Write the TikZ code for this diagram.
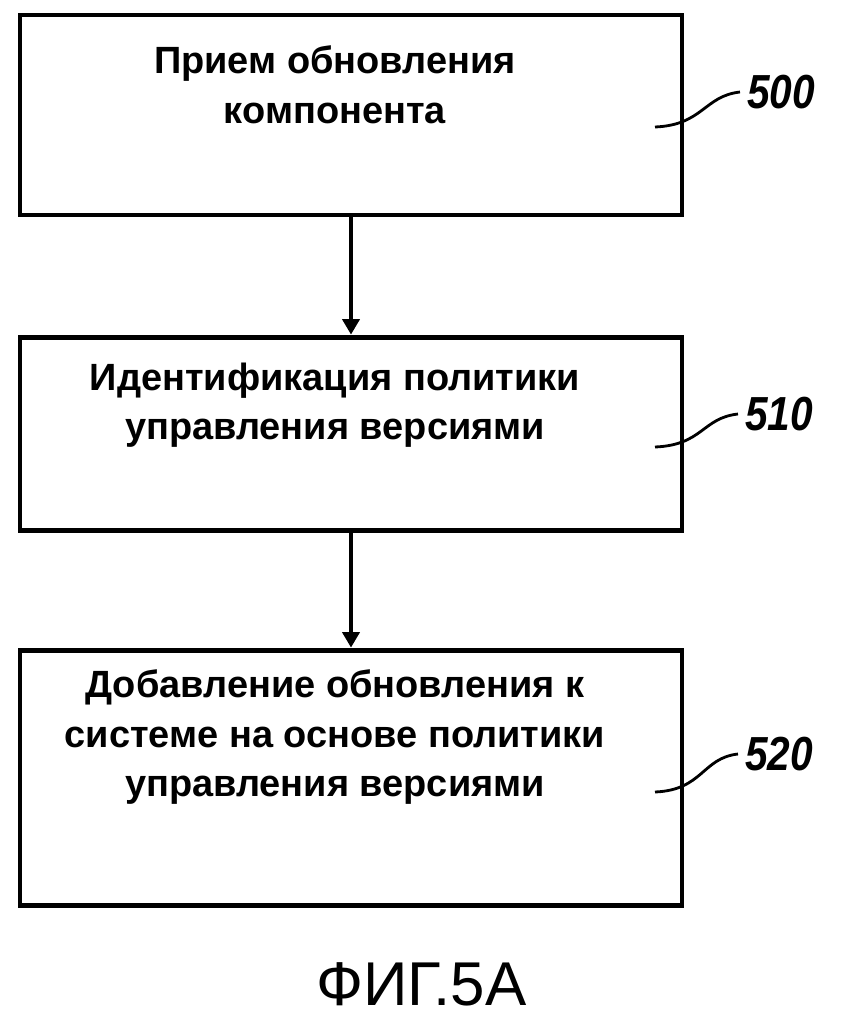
\documentclass[tikz,border=0pt]{standalone}
\usepackage{fontspec}
\setmainfont{Liberation Sans}
\newfontfamily\refnum[FakeStretch=0.85]{Liberation Sans}
\usetikzlibrary{arrows.meta}

\begin{document}
\begin{tikzpicture}[line width=3.5pt,>={Triangle[length=11pt,width=12pt]},
  box/.style={draw,minimum width=16.55cm,inner sep=0pt},
  txt/.style={anchor=north,align=center,font=\fontsize{27}{35}\selectfont\bfseries},
  num/.style={anchor=west,font=\refnum\fontsize{34}{34}\selectfont\bfseries\itshape},
  lead/.style={line width=2pt}]
\useasboundingbox (0,0) rectangle (21.1,-25.45);
% boxes
\node[box,minimum height=5cm] (b500) at (8.775,-2.875) {};
\node[box,minimum height=4.825cm] (b510) at (8.775,-10.84) {};
\node[box,minimum height=6.375cm] (b520) at (8.775,-19.44) {};
\node[txt] (t500) at ([xshift=-0.4cm,yshift=-0.66cm]b500.north) {Прием обновления\\компонента};
\node[txt] (t510) at ([xshift=-0.4cm,yshift=-0.52cm]b510.north) {Идентификация политики\\управления версиями};
\node[txt] (t520) at ([xshift=-0.4cm,yshift=-0.38cm]b520.north) {Добавление обновления к\\системе на основе политики\\управления версиями};
\draw[->] (b500.south) -- (b510.north);
\draw[->] (b510.south) -- (b520.north);
% reference numerals
\coordinate (l500) at (16.375,-3.175);
\coordinate (l510) at (16.375,-11.175);
\coordinate (l520) at (16.375,-19.8);
\node[num] (n500) at (18.5,-2.3) {500};
\node[num] (n510) at (18.45,-10.35) {510};
\node[num] (n520) at (18.45,-18.85) {520};
\draw[lead] (l500) .. controls +(1.2,0.05) and +(-0.9,-0.1) .. (n500.west);
\draw[lead] (l510) .. controls +(1.2,0.05) and +(-0.9,-0.1) .. (n510.west);
\draw[lead] (l520) .. controls +(1.2,0.05) and +(-0.9,-0.1) .. (n520.west);
\node[font=\fontsize{44}{44}\selectfont] (fig) at (10.53,-24.6) {ФИГ.5А};
\end{tikzpicture}
\end{document}
